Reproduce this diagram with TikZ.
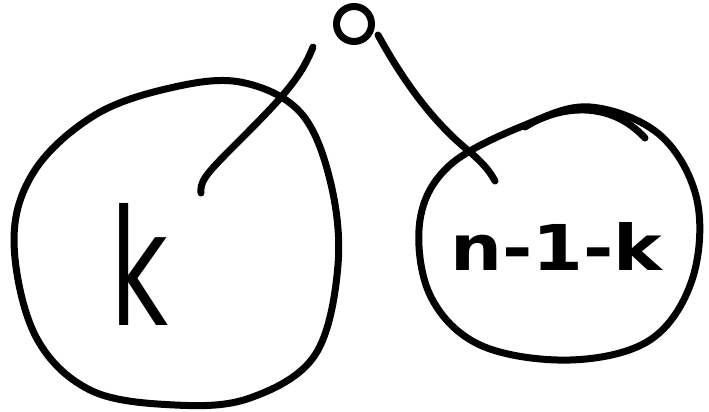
\documentclass[tikz,border=0pt]{standalone}
\usepackage{fontspec}
\usepackage{graphicx}
\setmainfont{DejaVu Sans}
\tikzset{
  ink/.style={line width=7pt, line cap=round, line join=round, black},
  lbl/.style={inner sep=0pt, anchor=north west},
}
\begin{document}
\begin{tikzpicture}[x=1pt,y=-1pt]
\useasboundingbox (0,0) rectangle (709,412);
% root
\node[ink, draw, circle, minimum size=35pt, inner sep=0pt] (root) at (354,24) {};
% left subtree blob
\draw[ink] plot[smooth cycle, tension=0.6] coordinates {
  (240,82) (300,112) (330,180) (338,265) (315,355) (250,398) (175,405)
  (90,390) (35,335) (14,240) (35,170) (95,115) (170,88)};
% right subtree blob
\draw[ink] plot[smooth cycle, tension=0.6] coordinates {
  (590,107) (660,135) (697,200) (692,280) (650,340) (570,360)
  (480,345) (430,295) (420,220) (450,165) (525,125)};
\draw[ink] (525,127) .. controls (560,105) and (610,100) .. (645,138);
% edges
\coordinate (le) at (201,193);
\coordinate (re) at (495,181);
\draw[ink] (root) ++(-41,23) coordinate (ls) .. controls (300,80) and (280,100) .. (230,150) .. controls (205,175) and (200,182) .. (le);
\draw[ink] (root) ++(24,11) coordinate (rs) .. controls (400,75) and (430,120) .. (470,152) .. controls (485,165) and (490,172) .. (re);
% labels
\node[lbl] (k) at (110,203) {\resizebox{58pt}{122pt}{k}};
\node[lbl] (nk) at (450,222) {\resizebox{212pt}{48pt}{\bfseries n-1-k}};
\end{tikzpicture}
\end{document}
